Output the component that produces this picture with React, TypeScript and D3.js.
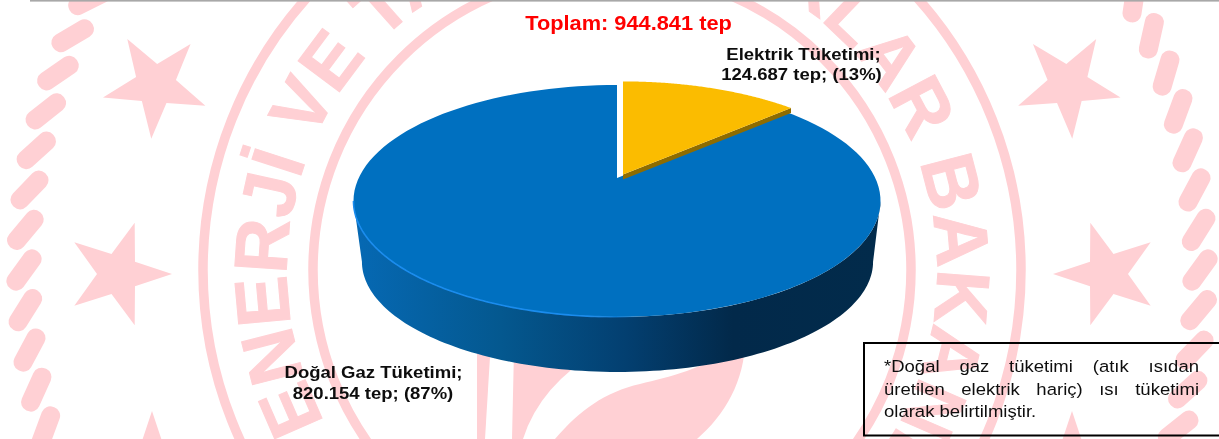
import React, { useLayoutEffect, useRef } from "react";
import * as d3 from "d3";

const sliceNames = ["Elektrik Tüketimi", "Doğal Gaz Tüketimi"];
const sliceValues = [124687, 820154];
const sliceColors = ["#FBBC00", "#0070C0"];
const totalLabel = "Toplam: 944.841 tep";
const labelElectric = ["Elektrik Tüketimi;", "124.687 tep; (13%)"];
const labelGas = ["Doğal Gaz Tüketimi;", "820.154 tep; (87%)"];
const noteLines = ["*Doğal gaz tüketimi (atık ısıdan", "üretilen elektrik hariç) ısı tüketimi", "olarak belirtilmiştir."];
const sealLeft = "ENERJİ VE TABİİ";
const sealRight = "NAKLAR BAKANLIĞI";
const PINK = "#FFD0D4";
const FONT = "'Liberation Sans', Arial, sans-serif";
const STRETCH = 1.09;

// pie projection: a unit circle seen in perspective
const K = 0.198;
const xTop = d3.scaleLinear().domain([-1, 1]).range([617 - 258.3, 617 + 258.3]);
const yTop = d3.scaleLinear().domain([-1, 1]).range([178 + 111.4, 178 - 111.4]);
const xBase = d3.scaleLinear().domain([-1, 1]).range([617.5 - 250.5, 617.5 + 250.5]);
const yBase = d3.scaleLinear().domain([-1, 1]).range([240 + 105.8, 240 - 105.8]);

type Sc = d3.ScaleLinear<number, number>;
const proj = (a: number, r: number, sx: Sc, sy: Sc): [number, number] => {
  const u = r * Math.sin(a), v = r * Math.cos(a), w = 1 + K * v;
  return [sx(u / w), sy(v / w)];
};
const line = d3.line<[number, number]>();
const arcPts = (a0: number, a1: number, sx: Sc, sy: Sc) =>
  d3.range(0, 121).map((i) => proj(a0 + ((a1 - a0) * i) / 120, 1, sx, sy));

const pie = d3.pie<number>().sort(null).startAngle(0).endAngle(2 * Math.PI);
const arcs = pie(sliceValues);

const wedge = (a0: number, a1: number) =>
  line([proj(a0, 0, xTop, yTop), ...arcPts(a0, a1, xTop, yTop)]) + "Z";

const angR = Math.atan2(Math.sqrt(1 - K * K), -K);
const angL = 2 * Math.PI - angR;
const gasSide = line([...arcPts(angR, angL, xTop, yTop), ...arcPts(angL, angR, xBase, yBase)]) + "Z";
const rimGlow = line(arcPts(angL, Math.PI * 0.98, xTop, yTop)) ?? "";

// seal
const CX = 612, CY = 270;
const TEXT_R = 325;
const sealPath = `M${CX},${CY + TEXT_R}A${TEXT_R},${TEXT_R} 0 1 1 ${CX},${CY - TEXT_R}A${TEXT_R},${TEXT_R} 0 1 1 ${CX},${CY + TEXT_R}`;
const offsetOf = (deg: number) => (((deg - 180) / 360) * 2 * Math.PI * TEXT_R).toFixed(1);
const ringRadii = [409, 299];
const starSpots = [
  { x: 155.5, y: 85, rot: -31.5 },
  { x: 118, y: 274, rot: 90 },
  { x: 152, y: 465, rot: 0 },
  { x: 1068, y: 85, rot: 31.5 },
  { x: 1107, y: 274, rot: -90 },
  { x: 1072, y: 465, rot: 0 },
];
const starPath = d3.lineRadial<number>()
  .angle((_, i) => (i * Math.PI) / 5)
  .radius((_, i) => (i % 2 ? 21 : 54))
  .curve(d3.curveLinearClosed)(d3.range(10)) ?? "";
const beads = d3.range(92).map((i) => 270 + (i * 360) / 92);

const App = () => {
  const noteRefs = useRef<(SVGTextElement | null)[]>([]);
  useLayoutEffect(() => {
    noteLines.forEach((l, i) => {
      const el = noteRefs.current[i];
      if (!el || i === noteLines.length - 1) return;
      const gaps = l.split(" ").length - 1;
      el.setAttribute("word-spacing", String((315 / STRETCH - el.getComputedTextLength()) / gaps));
    });
  }, []);
  const sc = (x: number, y: number) => `translate(${x},${y}) scale(${STRETCH},1)`;
  return (
    <svg width={1219} height={439} style={{ position: "fixed", left: 0, top: 0, background: "#fff" }}>
      <defs>
        <linearGradient id="gasSide" gradientUnits="userSpaceOnUse" x1={353} x2={880} y1={0} y2={0}>
          <stop offset="0" stopColor="#0669B4" />
          <stop offset="0.28" stopColor="#04588F" />
          <stop offset="0.52" stopColor="#033F70" />
          <stop offset="0.72" stopColor="#02294A" />
          <stop offset="1" stopColor="#022B4B" />
        </linearGradient>
        <linearGradient id="glow" gradientUnits="userSpaceOnUse" x1={353} x2={640} y1={0} y2={0}>
          <stop offset="0" stopColor="#1A8CEE" />
          <stop offset="0.8" stopColor="#1A8CEE" />
          <stop offset="1" stopColor="#1A8CEE" stopOpacity={0} />
        </linearGradient>
        <path id="sealArc" d={sealPath} />
        <filter id="soft" x="-5%" y="-5%" width="110%" height="110%">
          <feGaussianBlur stdDeviation="0.35" />
        </filter>
      </defs>

      <g fill={PINK}>
        {beads.map((deg) => {
          const a = (deg * Math.PI) / 180;
          const x = CX + 588 * Math.sin(a), y = CY - 588 * Math.cos(a);
          return <rect key={deg} x={-9.5} y={-23} width={19} height={46} rx={9}
            transform={`translate(${x},${y}) rotate(${deg + 90 + 36})`} />;
        })}
        {starSpots.map((s, i) => (
          <path key={i} d={starPath} transform={`translate(${s.x},${s.y}) rotate(${s.rot})`} />
        ))}
        {ringRadii.map((r) => (
          <circle key={r} cx={CX} cy={CY} r={r} fill="none" stroke={PINK} strokeWidth={9.5} />
        ))}
        <text fontFamily={FONT} fontWeight={700} fontSize={75} stroke={PINK} strokeWidth={1}>
          <textPath href="#sealArc" startOffset={offsetOf(242)}>{sealLeft}</textPath>
        </text>
        <text fontFamily={FONT} fontWeight={700} fontSize={75} stroke={PINK} strokeWidth={1}>
          <textPath href="#sealArc" startOffset={offsetOf(371)}>{sealRight}</textPath>
        </text>
        <path d="M477,340L491,340L485,439L477,439Z" />
        <path d="M514,350L600,350Q540,385 523,439L512,439Z" />
        <path d="M555,439C580,410 605,392 640,384C670,376 700,372 745,340C745,380 725,415 697,439Z" />
      </g>

      <rect x={30} y={0} width={1189} height={1.6} fill="#A8A8A8" />

      <g>
        <path d={gasSide} fill="url(#gasSide)" />
        <path d={wedge(arcs[1].startAngle, arcs[1].endAngle)} fill={sliceColors[1]} />
        <path d={rimGlow} fill="none" stroke="url(#glow)" strokeWidth={1.6} />
        <g transform="translate(6,-3.6)">
          <path
            d={line([proj(arcs[0].startAngle, 0, xTop, yTop), proj(arcs[0].endAngle, 1, xTop, yTop),
              [proj(arcs[0].endAngle, 1, xTop, yTop)[0], proj(arcs[0].endAngle, 1, xTop, yTop)[1] + 5],
              [proj(arcs[0].startAngle, 0, xTop, yTop)[0], proj(arcs[0].startAngle, 0, xTop, yTop)[1] + 5]]) + "Z"}
            fill="#8E6C00"
          />
          <path d={wedge(arcs[0].startAngle, arcs[0].endAngle)} fill={sliceColors[0]} />
        </g>
      </g>

      <g fontFamily={FONT} filter="url(#soft)">
        <text transform={sc(628.5, 30)} textAnchor="middle" fontSize={20} fontWeight={700} fill="#FF0000">{totalLabel}</text>
        <g fontSize={17} fontWeight={700} fill="#0D0D0D" textAnchor="middle">
          <text transform={sc(803.5, 60)}>{labelElectric[0]}</text>
          <text transform={sc(801.5, 80)}>{labelElectric[1]}</text>
          <text transform={sc(373.5, 378)}>{labelGas[0]}</text>
          <text transform={sc(373, 399)}>{labelGas[1]}</text>
        </g>
        <g fontSize={17} fill="#111">
          {noteLines.map((l, i) => (
            <text key={i} ref={(el) => { noteRefs.current[i] = el; }} transform={sc(884, 372 + i * 22.5)}>{l}</text>
          ))}
        </g>
      </g>
      <path d="M1219,343H864V435.5H1219" fill="none" stroke="#000" strokeWidth={2} />
    </svg>
  );
};

export default App;
